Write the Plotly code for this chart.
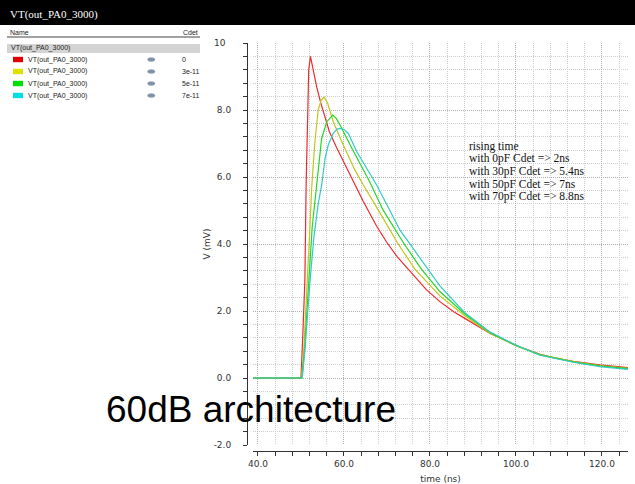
import plotly.graph_objects as go

W, H = 635, 484

# ---------------- data ----------------
series_names = ["VT(out_PA0_3000)"] * 4
cdet_values = ["0", "3e-11", "5e-11", "7e-11"]
series_colors = ["#ee2b2b", "#c4c41c", "#24d824", "#35c8c8"]
swatch_colors = ["#e00000", "#e0e000", "#00e000", "#00e0e0"]

t_0pf = [38.8, 50.0, 50.4, 50.9, 51.2, 51.5, 51.8, 52.2, 52.9, 53.7, 54.6, 55.6, 56.6,
         58.3, 60.6, 64.5, 67.6, 69.9, 72.3, 79.2, 82.3, 85.6, 88.1, 92.4, 94.0,
         100.2, 105.6, 108.7, 113.3, 119.5, 126.0]
v_0pf = [0, 0, 1.2, 2.9, 5.8, 8.0, 9.2, 9.6, 9.14, 8.66, 8.21, 7.76, 7.35,
         6.87, 6.27, 5.27, 4.53, 4.06, 3.63, 2.63, 2.28, 1.97, 1.78, 1.45, 1.33,
         0.96, 0.71, 0.61, 0.50, 0.39, 0.31]

t_30pf = [38.8, 50.1, 50.6, 51.1, 51.5, 52.0, 52.5, 53.2, 54.0, 54.7, 55.4, 56.2, 57.5,
          59.8, 62.5, 64.5, 68.4, 72.6, 76.5, 82.3, 88.1, 94.0, 100.2, 105.6, 113.3,
          119.5, 126.0]
v_30pf = [0, 0, 0.7, 1.9, 2.9, 4.3, 5.7, 7.0, 8.0, 8.3, 8.38, 8.2, 7.65,
          6.96, 6.22, 5.76, 4.92, 4.0, 3.25, 2.45, 1.86, 1.33, 0.96, 0.70, 0.49,
          0.37, 0.29]

t_50pf = [38.8, 50.2, 50.8, 51.3, 51.7, 52.6, 53.65, 54.8, 56.0, 57.4, 58.2, 59.1, 61.4,
          64.5, 66.0, 69.1, 74.0, 78.0, 82.3, 88.1, 94.0, 100.2, 105.6, 113.3, 119.5, 126.0]
v_50pf = [0, 0, 0.8, 1.9, 2.9, 4.5, 5.76, 7.15, 7.65, 7.85, 7.75, 7.55, 6.96,
          6.23, 5.85, 5.01, 4.0, 3.25, 2.58, 1.91, 1.35, 0.96, 0.69, 0.48, 0.36, 0.28]

t_70pf = [38.8, 50.3, 50.9, 51.5, 52.1, 53.0, 54.0, 54.8, 55.6, 56.35, 57.5, 58.4, 59.1,
          60.0, 61.0, 62.95, 65.8, 67.6, 73.0, 75.3, 76.9, 82.3, 88.1, 94.0, 100.2,
          105.6, 113.3, 119.5, 126.0]
v_70pf = [0, 0, 0.8, 1.9, 2.9, 4.2, 5.2, 5.76, 6.56, 6.96, 7.3, 7.43, 7.45,
          7.42, 7.3, 6.76, 6.15, 5.76, 4.42, 4.0, 3.72, 2.75, 1.95, 1.37, 0.97,
          0.68, 0.47, 0.34, 0.26]

times = [t_0pf, t_30pf, t_50pf, t_70pf]
volts = [v_0pf, v_30pf, v_50pf, v_70pf]

y_tick_vals = [-2, 0, 2, 4, 6, 8, 10]
y_tick_text = ["-2.0", "0.0", "2.0", "4.0", "6.0", "8.0", "10\u2008\u2008"]

note_lines = ["rising time",
              "with 0pF Cdet => 2ns",
              "with 30pF Cdet => 5.4ns",
              "with 50pF Cdet => 7ns",
              "with 70pF Cdet => 8.8ns"]

window_title = "VT(out_PA0_3000)"
group_name = "VT(out_PA0_3000)"
big_label = "60dB architecture"


# ---------------- helpers ----------------
def px(x):
    return x / W


def py(y):
    return 1 - y / H


fig = go.Figure()
for t, v, c, n, cd in zip(times, volts, series_colors, series_names, cdet_values):
    fig.add_trace(go.Scatter(x=t, y=v, mode="lines", name=f"{n} Cdet={cd}",
                             line=dict(color=c, width=1.2), showlegend=False))

axis_font = dict(family="DejaVu Sans", size=9, color="#333333")

fig.update_layout(
    width=W, height=H,
    margin=dict(l=0, r=0, t=0, b=0, pad=0),
    paper_bgcolor="white", plot_bgcolor="white",
    showlegend=False,
    xaxis=dict(
        domain=[px(253), px(628)], range=[38.84, 126.05],
        anchor="free", position=py(451), automargin=False,
        showline=True, linecolor="#333333", linewidth=1,
        ticks="outside", ticklen=4, tickcolor="#333333",
        tick0=40, dtick=20, tickformat=".1f",
        tickfont=axis_font,
        showgrid=True, gridcolor="#b0b0b0", griddash="1px,1px", gridwidth=1,
        zeroline=False,
        minor=dict(tick0=40, dtick=4, ticks="outside", ticklen=4, tickcolor="#333333",
                   showgrid=True, gridcolor="#cdcdcd", griddash="1px,1px"),
        title=dict(text="time (ns)", font=axis_font, standoff=7),
    ),
    yaxis=dict(
        domain=[py(445), py(43)], range=[-2, 10],
        anchor="free", position=px(247), automargin=False,
        showline=True, linecolor="#333333", linewidth=1,
        ticks="outside", ticklen=4, tickcolor="#333333",
        tickmode="array", tickvals=y_tick_vals, ticktext=y_tick_text,
        tickfont=axis_font, ticklabelstandoff=10,
        showgrid=True, gridcolor="#b0b0b0", griddash="1px,1px", gridwidth=1,
        zeroline=False,
        minor=dict(tickmode="linear", tick0=0, dtick=0.4, ticks="outside", ticklen=4,
                   tickcolor="#333333", showgrid=True, gridcolor="#cdcdcd",
                   griddash="1px,1px"),
        title=dict(text="V (mV)", font=axis_font, standoff=0),
    ),
)

shapes = []
annotations = []

# window title bar
shapes.append(dict(type="rect", xref="paper", yref="paper", x0=0, x1=1, y0=py(25), y1=1,
                   fillcolor="black", line=dict(width=0), layer="above"))
annotations.append(dict(text=window_title, xref="paper", yref="paper", x=px(8), y=py(15),
                        xanchor="left", yanchor="middle", showarrow=False,
                        font=dict(family="Liberation Serif", size=11, color="white")))

# panel header
small = dict(family="Liberation Sans", size=7, color="#222222")
annotations.append(dict(text="Name", xref="paper", yref="paper", x=px(8), y=py(32),
                        xanchor="left", yanchor="middle", showarrow=False, font=small))
annotations.append(dict(text="Cdet", xref="paper", yref="paper", x=px(200), y=py(32),
                        xanchor="right", yanchor="middle", showarrow=False, font=small))
shapes.append(dict(type="line", xref="paper", yref="paper", x0=px(7), x1=px(200),
                   y0=py(37), y1=py(37), line=dict(color="#444444", width=1)))
shapes.append(dict(type="rect", xref="paper", yref="paper", x0=px(7), x1=px(200),
                   y0=py(53), y1=py(44), fillcolor="#d4d4d4", line=dict(width=0)))
annotations.append(dict(text=group_name, xref="paper", yref="paper", x=px(9), y=py(48.5),
                        xanchor="left", yanchor="middle", showarrow=False, font=small))

row_y = [59.5, 71.5, 83.5, 95.5]
for yy, sc, n, cd in zip(row_y, swatch_colors, series_names, cdet_values):
    shapes.append(dict(type="rect", xref="paper", yref="paper", x0=px(13), x1=px(23),
                       y0=py(yy + 2.7), y1=py(yy - 2.7), fillcolor=sc, line=dict(width=0)))
    annotations.append(dict(text=n, xref="paper", yref="paper", x=px(26), y=py(yy),
                            xanchor="left", yanchor="middle", showarrow=False, font=small))
    shapes.append(dict(type="circle", xref="paper", yref="paper", x0=px(147.5), x1=px(155),
                       y0=py(yy + 2), y1=py(yy - 2), fillcolor="#7d8fa8",
                       line=dict(color="#a8b4c4", width=0.5)))
    annotations.append(dict(text=cd, xref="paper", yref="paper", x=px(180), y=py(yy),
                            xanchor="left", yanchor="middle", showarrow=False, font=small))

# note inside the plot
note_font = dict(family="Liberation Serif", size=11.5, color="#111111")
for i, line in enumerate(note_lines):
    annotations.append(dict(text=line, xref="paper", yref="paper", x=px(467),
                            y=py(146 + i * 12.7), xanchor="left", yanchor="middle",
                            showarrow=False, font=note_font))

# big overlay label
annotations.append(dict(text=big_label, xref="paper", yref="paper", x=px(104), y=py(409),
                        xanchor="left", yanchor="middle", showarrow=False,
                        font=dict(family="Liberation Sans", size=37, color="black")))

fig.update_layout(shapes=shapes, annotations=annotations)
fig.write_html("out.html", config={"displayModeBar": False},
               post_script="document.body.style.margin='0px';")
